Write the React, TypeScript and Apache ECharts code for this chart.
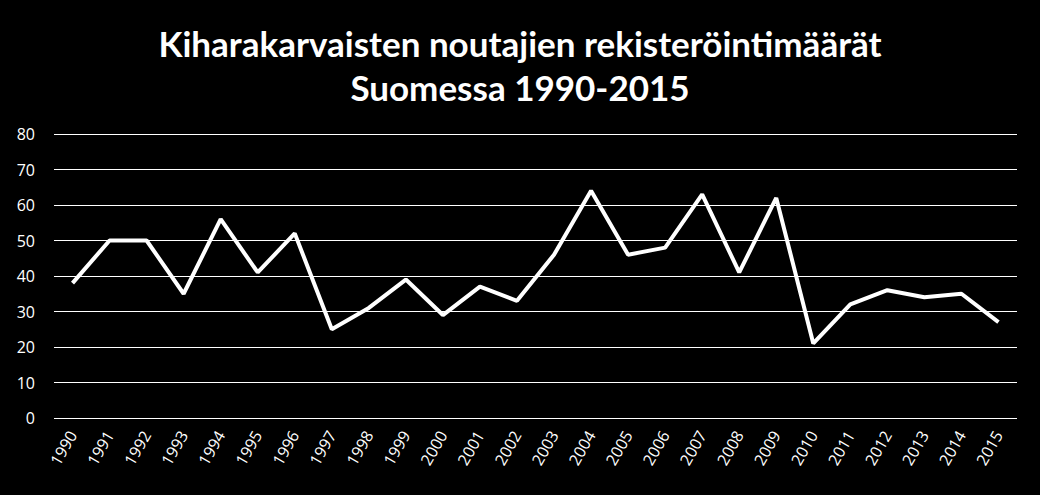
import React, { useEffect, useRef } from "react";
import * as echarts from "echarts";

const years = ["1990","1991","1992","1993","1994","1995","1996","1997","1998","1999","2000","2001","2002","2003","2004","2005","2006","2007","2008","2009","2010","2011","2012","2013","2014","2015"];
const registrations = [38,50,50,35,56,41,52,25,31,39,29,37,33,46,64,46,48,63,41,62,21,32,36,34,35,27];
const titleText = "Kiharakarvaisten noutajien rekisteröintimäärät\nSuomessa 1990-2015";

export default function App() {
  const ref = useRef<HTMLDivElement>(null);
  useEffect(() => {
    document.body.style.margin = "0";
    document.body.style.background = "#000";
    const chart = echarts.init(ref.current!, null, { renderer: "svg" });
    chart.setOption({
      animation: false,
      backgroundColor: "#000000",
      title: {
        text: titleText,
        left: "center",
        top: 16,
        textStyle: {
          color: "#ffffff",
          fontFamily: "Lato",
          fontWeight: "bold",
          fontSize: 35,
          lineHeight: 44,
        },
      },
      grid: { left: 54, right: 23, top: 134, bottom: 77, containLabel: false },
      xAxis: {
        type: "category",
        data: years,
        boundaryGap: true,
        axisLine: { show: false },
        axisTick: { show: false },
        axisLabel: {
          color: "#ffffff",
          fontFamily: "Open Sans",
          fontSize: 16,
          rotate: 60,
          interval: 0,
          margin: 14,
        },
      },
      yAxis: {
        type: "value",
        min: 0,
        max: 80,
        interval: 10,
        axisLine: { show: false },
        axisTick: { show: false },
        splitLine: { lineStyle: { color: "#ffffff", width: 1 } },
        axisLabel: {
          color: "#ffffff",
          fontFamily: "Open Sans",
          fontSize: 16,
          margin: 19,
        },
      },
      series: [
        {
          type: "line",
          data: registrations,
          symbol: "none",
          lineStyle: { color: "#ffffff", width: 4 },
        },
      ],
    });
    return () => chart.dispose();
  }, []);
  return <div ref={ref} style={{ width: 1040, height: 495 }} />;
}
